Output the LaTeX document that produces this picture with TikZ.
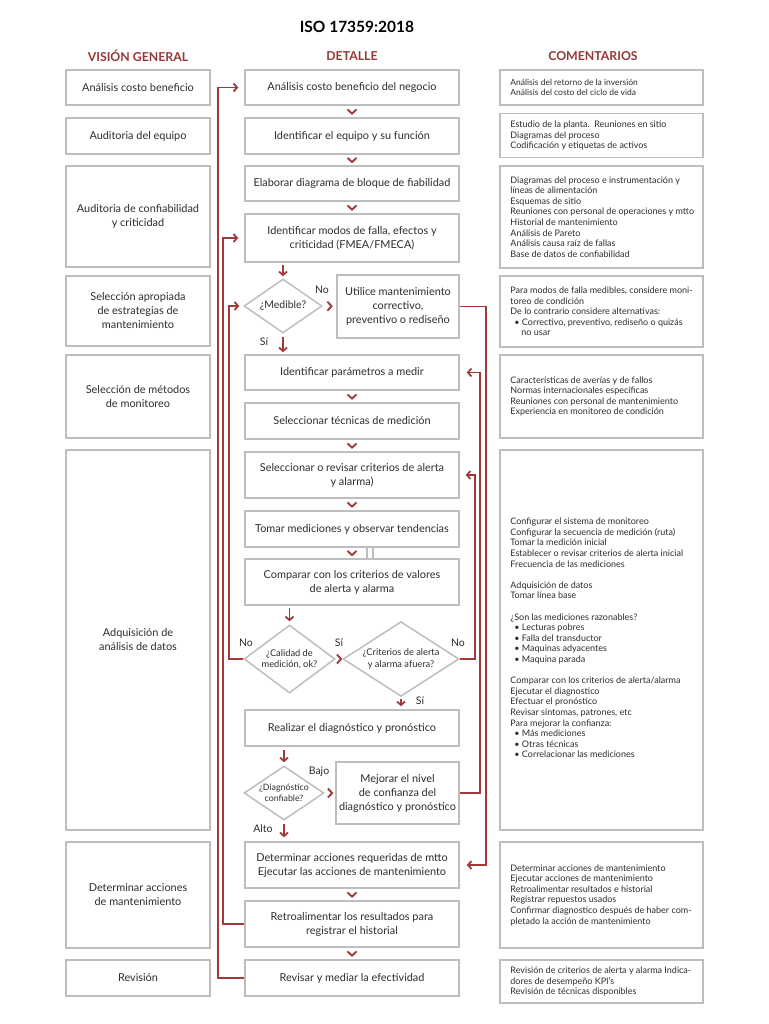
\documentclass[tikz,border=0pt]{standalone}
\usepackage{fontspec}
\setmainfont{Lato}
\usetikzlibrary{shapes.geometric,arrows.meta,calc}
\definecolor{rd}{RGB}{160,58,58}
\definecolor{hd}{RGB}{150,56,56}
\definecolor{bx}{RGB}{190,190,190}
\definecolor{tx}{RGB}{45,45,45}
\begin{document}
\begin{tikzpicture}[x=1pt,y=-1pt,
  every node/.style={text=tx},
  boxbase/.style={draw=bx, line width=1.5pt, fill=white, align=center, inner sep=1pt,
    font=\fontsize{10.9}{14}\selectfont},
  lbox/.style={boxbase, minimum width=144pt},
  mbox/.style={boxbase, minimum width=214pt},
  sbox/.style={boxbase, minimum width=122pt},
  cbox/.style={draw=bx, line width=1.5pt, fill=white, minimum width=203pt},
  ctext/.style={anchor=west, align=left, inner sep=0pt, font=\fontsize{9}{10.6}\selectfont},
  dia/.style={diamond, draw=bx, line width=1.5pt, fill=white, inner sep=0pt, aspect=1.4, align=center},
  lab/.style={font=\fontsize{10.5}{12}\selectfont},
  hdr/.style={font=\bfseries\fontsize{12.3}{14}\selectfont, text=hd},
  rl/.style={draw=rd, line width=1.8pt},
  fb/.style={rl, -{Straight Barb[length=3.5pt,width=8pt]}},
  chevd/.pic={\draw[rd, line width=1.8pt] (-4.5,-2.2) -- (0,2.2) -- (4.5,-2.2);},
  chevr/.pic={\draw[rd, line width=1.8pt] (-2.2,-4.5) -- (2.2,0) -- (-2.2,4.5);}
]
\useasboundingbox (0,0) rectangle (768,1024);
\fill[white] (0,0) rectangle (768,1024);

% titles
\node[font=\bfseries\fontsize{15.5}{17}\selectfont, text=black] (title) at (357,27) {ISO 17359:2018};
\node[hdr] (h1) at (138,56) {VISIÓN GENERAL};
\node[hdr] (h2) at (352,56) {DETALLE};
\node[hdr] (h3) at (593,56) {COMENTARIOS};

% left column
\node[lbox, minimum height=35pt] (l1) at (138,87.5) {Análisis costo beneficio};
\node[lbox, minimum height=36pt] (l2) at (138,136) {Auditoria del equipo};
\node[lbox, minimum height=101pt] (l3) at (138,216.5) {Auditoria de confiabilidad\\y criticidad};
\node[lbox, minimum height=70pt] (l4) at (138,311) {Selección apropiada\\de estrategias de\\mantenimiento};
\node[lbox, minimum height=83pt] (l5) at (138,396.5) {Selección de métodos\\de monitoreo};
\node[lbox, minimum height=380pt] (l6) at (138,640) {Adquisición de\\análisis de datos};
\node[lbox, minimum height=106pt] (l7) at (138,895) {Determinar acciones\\de mantenimiento};
\node[lbox, minimum height=36pt] (l8) at (138,978) {Revisión};

% middle column
\node[mbox, minimum height=35pt] (m1) at (352,87.5) {Análisis costo beneficio del negocio};
\node[mbox, minimum height=36pt] (m2) at (352,136) {Identificar el equipo y su función};
\node[mbox, minimum height=35pt] (m3) at (352,183.5) {Elaborar diagrama de bloque de fiabilidad};
\node[mbox, minimum height=48pt] (m4) at (352,238) {Identificar modos de falla, efectos y\\criticidad (FMEA/FMECA)};
\node[dia, minimum width=78pt, minimum height=54pt, font=\fontsize{10.5}{12}\selectfont] (d0) at (283,306) {¿Medible?};
\node[sbox, minimum height=63pt] (u) at (398,306.5) {Utilice mantenimiento\\correctivo,\\preventivo o rediseño};
\node[mbox, minimum height=35pt] (m5) at (352,372.5) {Identificar parámetros a medir};
\node[mbox, minimum height=36pt] (m6) at (352,421) {Seleccionar técnicas de medición};
\node[mbox, minimum height=46pt] (m7) at (352,475) {Seleccionar o revisar criterios de alerta\\y alarma)};
\node[mbox, minimum height=36pt] (m8) at (352,529) {Tomar mediciones y observar tendencias};
\node[mbox, minimum height=46pt] (m9) at (352,582) {Comparar con los criterios de valores\\de alerta y alarma};
\node[dia, minimum width=91pt, minimum height=68pt, font=\fontsize{9.3}{11.5}\selectfont] (d1) at (289.5,659) {¿Calidad de\\medición, ok?};
\node[dia, minimum width=116pt, minimum height=68pt, font=\fontsize{9.3}{11.5}\selectfont] (d2) at (401,659) {¿Criterios de alerta\\y alarma afuera?};
\node[mbox, minimum height=36pt] (m10) at (352,728) {Realizar el diagnóstico y pronóstico};
\node[dia, minimum width=80pt, minimum height=54pt, font=\fontsize{8.8}{10.5}\selectfont] (d3) at (284,793) {¿Diagnóstico\\confiable?};
\node[sbox, minimum width=123pt, minimum height=62pt] (j) at (397.5,793) {Mejorar el nivel\\de confianza del\\diagnóstico y pronóstico};
\node[mbox, minimum height=46pt] (m11) at (352,865) {Determinar acciones requeridas de mtto\\Ejecutar las acciones de mantenimiento};
\node[mbox, minimum height=46pt] (m12) at (352,924) {Retroalimentar los resultados para\\registrar el historial};
\node[mbox, minimum height=36pt] (m13) at (352,978) {Revisar y mediar la efectividad};

% right column
\node[cbox, minimum height=35pt] (r1) at (601.5,87.5) {};
\node[cbox, minimum height=44pt] (r2) at (601.5,135.5) {};
\node[cbox, minimum height=102pt] (r3) at (601.5,217) {};
\node[cbox, minimum height=71pt] (r4) at (601.5,311.5) {};
\node[cbox, minimum height=83pt] (r5) at (601.5,396.5) {};
\node[cbox, minimum height=380pt] (r6) at (601.5,640) {};
\node[cbox, minimum height=106pt] (r7) at (601.5,895) {};
\node[cbox, minimum height=43pt] (r8) at (601.5,981.5) {};

\node[ctext, font=\fontsize{8.5}{10}\selectfont] (r1t) at ($(r1.west)+(11,0)$) {Análisis del retorno de la inversión\\Análisis del costo del ciclo de vida};
\node[ctext] (r2t) at ($(r2.west)+(11,0)$) {Estudio de la planta.\ \ Reuniones en sitio\\Diagramas del proceso\\Codificación y etiquetas de activos};
\node[ctext] (r3t) at ($(r3.west)+(11,0)$) {Diagramas del proceso e instrumentación y\\líneas de alimentación\\Esquemas de sitio\\Reuniones con personal de operaciones y mtto\\Historial de mantenimiento\\Análisis de Pareto\\Análisis causa raíz de fallas\\Base de datos de confiabilidad};
\node[ctext] (r4t) at ($(r4.west)+(11,0)$) {Para modos de falla medibles, considere moni-\\toreo de condición\\De lo contrario considere alternativas:\\\hspace*{4pt}• Correctivo, preventivo, rediseño o quizás\\\hspace*{11pt}no usar};
\node[ctext] (r5t) at ($(r5.west)+(11,0)$) {Características de averías y de fallos\\Normas internacionales específicas\\Reuniones con personal de mantenimiento\\Experiencia en monitoreo de condición};
\node[ctext] (r6t) at ($(r6.west)+(11,-2)$) {Configurar el sistema de monitoreo\\Configurar la secuencia de medición (ruta)\\Tomar la medición inicial\\Establecer o revisar criterios de alerta inicial\\Frecuencia de las mediciones\\[10.6pt]Adquisición de datos\\Tomar línea base\\[10.6pt]¿Son las mediciones razonables?\\\hspace*{4pt}• Lecturas pobres\\\hspace*{4pt}• Falla del transductor\\\hspace*{4pt}• Maquinas adyacentes\\\hspace*{4pt}• Maquina parada\\[10.6pt]Comparar con los criterios de alerta/alarma\\Ejecutar el diagnostico\\Efectuar el pronóstico\\Revisar síntomas, patrones, etc\\Para mejorar la confianza:\\\hspace*{4pt}• Más mediciones\\\hspace*{4pt}• Otras técnicas\\\hspace*{4pt}• Correlacionar las mediciones};
\node[ctext] (r7t) at ($(r7.west)+(11,0)$) {Determinar acciones de mantenimiento\\Ejecutar acciones de mantenimiento\\Retroalimentar resultados e historial\\Registrar repuestos usados\\Confirmar diagnostico después de haber com-\\pletado la acción de mantenimiento};
\node[ctext] (r8t) at ($(r8.west)+(11,0)$) {Revisión de criterios de alerta y alarma Indica-\\dores de desempeño KPI's\\Revisión de técnicas disponibles};

% chevrons between boxes
\pic at ($(m1.south)!0.5!(m2.north)$) {chevd};
\pic at ($(m2.south)!0.5!(m3.north)$) {chevd};
\pic at ($(m3.south)!0.5!(m4.north)$) {chevd};
\pic at ($(m5.south)!0.5!(m6.north)$) {chevd};
\pic at ($(m6.south)!0.5!(m7.north)$) {chevd};
\pic at ($(m7.south)!0.5!(m8.north)$) {chevd};
\pic at ($(m8.south)!0.5!(m9.north)$) {chevd};
\pic at ($(m11.south)!0.5!(m12.north)$) {chevd};
\pic at ($(m12.south)!0.5!(m13.north)$) {chevd};
\pic at ($(d0.east)!0.5!(u.west)$) {chevr};
\pic at ($(d1.east)!0.5!(d2.west)$) {chevr};
\pic at ($(d3.east)!0.5!(j.west)$) {chevr};

% double gray line M8 -> M9
\draw[bx, line width=1.2pt] ($(m8.south)+(15,0)$) -- ($(m9.north)+(15,0)$);
\draw[bx, line width=1.2pt] ($(m8.south)+(21,0)$) -- ($(m9.north)+(21,0)$);

% down arrows
\draw[fb] ($(m4.south -| d0.north)+(0,2)$) -- ($(d0.north)+(0,-2)$);
\draw[fb] ($(d0.south)+(0,3)$) -- ($(d0.south |- m5.north)+(0,-2)$);
\draw[fb] ($(m9.south -| d1.north)+(0,2.5)$) -- ($(d1.north)+(0,-3)$);
\draw[fb] ($(d2.south)+(0,2)$) -- ($(d2.south |- m10.north)+(0,-3)$);
\draw[fb] ($(m10.south -| d3.north)+(0,3)$) -- ($(d3.north)+(0,-3)$);
\draw[fb] ($(d3.south)+(0,3)$) -- ($(d3.south |- m11.north)+(0,-4)$);

% labels
\node[lab] (lno0) at (322,290) {No};
\node[lab] (lsi0) at (264,342) {Sí};
\node[lab] (lno1) at (246,643) {No};
\node[lab] (lsi1) at (339,643) {Sí};
\node[lab] (lno2) at (458,643) {No};
\node[lab] (lsi2) at (420,701) {Sí};
\node[lab] (lbajo) at (319,772) {Bajo};
\node[lab] (lalto) at (263,829) {Alto};

% feedback lines left
\draw[fb] (m13.west) -- ++(-26,0) |- ($(m1.west)+(-6,0)$);
\draw[fb] (m12.west) -- ++(-21,0) |- ($(m4.west)+(-6,0)$);
\draw[fb] (d1.west) -- ++(-14,0) |- ($(d0.west)+(-4,0)$);
% feedback lines right
\draw[fb] (u.east) -- ++(26,0) |- ($(m11.east)+(7,0)$);
\draw[fb] (j.east) -- ++(20,0) |- ($(m5.east)+(7,0)$);
\draw[fb] (d2.east) -- ++(15,0) |- ($(m7.east)+(6,0)$);
\end{tikzpicture}
\end{document}
